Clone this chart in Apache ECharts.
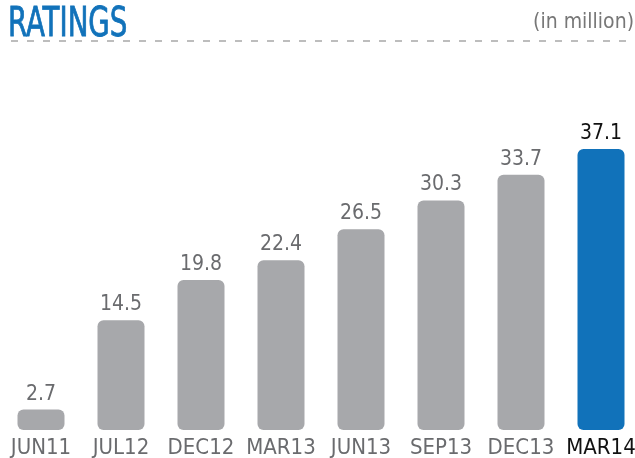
<!DOCTYPE html>
<html>
<head>
<meta charset="utf-8">
<script src="https://cdn.jsdelivr.net/npm/echarts@6/dist/echarts.min.js"></script>
<style>
  html, body { margin: 0; padding: 0; background: #fff; }
  #chart { width: 635px; height: 458px; }
</style>
</head>
<body>
<div id="chart"></div>
<script>
// ratings data (in million)
const categories = ['JUN11', 'JUL12', 'DEC12', 'MAR13', 'JUN13', 'SEP13', 'DEC13', 'MAR14']
const ratings = [2.7, 14.5, 19.8, 22.4, 26.5, 30.3, 33.7, 37.1]
const highlightIndex = 7

const FONT = '"DejaVu Sans Condensed", "Noto Sans", sans-serif'
const GREY = '#a7a8ab'
const BLUE = '#1172ba'

const chart = echarts.init(document.getElementById('chart'))

const option = {
  animation: false,
  grid: {
    left: 1,
    width: 640,
    top: 127,
    bottom: 28,
    outerBoundsMode: 'none'
  },
  xAxis: {
    type: 'category',
    data: categories,
    axisLine: { show: false },
    axisTick: { show: false },
    axisLabel: {
      interval: 0,
      margin: 7,
      fontFamily: FONT,
      fontSize: 22,
      color: (val, idx) => (idx === highlightIndex ? '#111' : '#6a6b6e')
    }
  },
  yAxis: {
    type: 'value',
    min: 0,
    max: 40,
    show: false,
    splitLine: { show: false }
  },
  series: [{
    type: 'bar',
    barWidth: 47,
    data: ratings.map((v, i) => ({
      value: v,
      itemStyle: { color: i === highlightIndex ? BLUE : GREY },
      label: { color: i === highlightIndex ? '#111' : '#6a6b6e' }
    })),
    itemStyle: {
      borderRadius: 6
    },
    label: {
      show: true,
      position: 'top',
      distance: 5,
      fontFamily: FONT,
      fontSize: 21
    }
  }],
  graphic: [
    {
      type: 'text',
      x: 8,
      y: 6,
      scaleX: 0.77,
      style: {
        text: 'RATINGS',
        fontFamily: FONT,
        fontSize: 40,
        fill: BLUE,
        stroke: BLUE,
        lineWidth: 0.8,
        verticalAlign: 'top'
      }
    },
    {
      type: 'text',
      right: 1,
      top: 12,
      style: {
        text: '(in million)',
        fontFamily: FONT,
        fontSize: 21,
        fill: '#777'
      }
    },
    {
      type: 'line',
      shape: { x1: 11, y1: 41, x2: 635, y2: 41 },
      style: {
        stroke: '#bdbdbd',
        lineWidth: 2,
        lineDash: [7, 9]
      }
    }
  ]
}

chart.setOption(option)
</script>
</body>
</html>
